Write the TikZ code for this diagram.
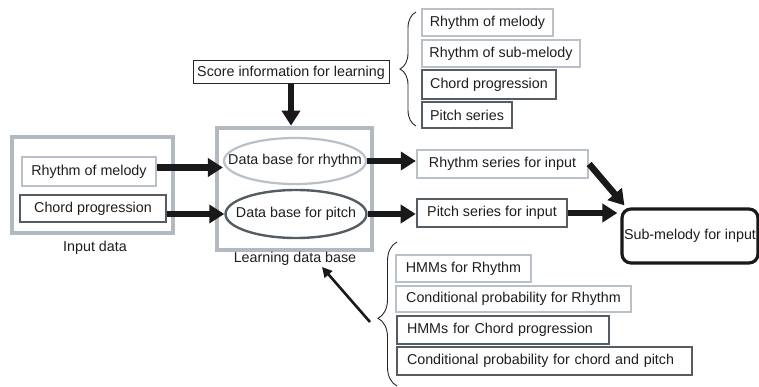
\documentclass[tikz,border=0pt]{standalone}
\usepackage{fontspec}
\setmainfont{Liberation Sans}
\usetikzlibrary{arrows.meta,shapes.geometric,decorations.pathreplacing}
\definecolor{lightc}{HTML}{B9C0C7}
\definecolor{darkc}{HTML}{555D62}
\definecolor{framec}{HTML}{B3B9C1}
\definecolor{txt}{HTML}{1E1E1E}
\begin{document}
\begin{tikzpicture}[x=1pt,y=-1pt,
  every node/.style={font=\fontsize{14.3}{16}\selectfont, text=txt},
  basebox/.style={rectangle, inner sep=0pt, fill=white},
  lbox/.style={basebox, draw=lightc, line width=2.3pt},
  dbox/.style={basebox, draw=darkc, line width=2.6pt},
  framebox/.style={rectangle, inner sep=0pt, draw=framec, line width=4.7pt},
  lell/.style={ellipse, inner sep=0pt, draw=lightc, line width=2.2pt, fill=white},
  dell/.style={ellipse, inner sep=0pt, draw=darkc, line width=2.4pt, fill=white},
  bigarrow/.style={line width=6.5pt, draw=black!90, -{Triangle[length=15pt,width=18pt]}},
  thinarrow/.style={line width=2.6pt, draw=black!90, -{Triangle[length=10pt,width=10pt]}},
  bracestyle/.style={draw=black!85, line width=0.9pt, decorate}
]
\useasboundingbox (0,0) rectangle (759,387);

% input data
\node[framebox, minimum width=161, minimum height=96] (inframe) at (92.5,185) {};
\node[lbox, minimum width=134, minimum height=29] (rml) at (89,171.5) {Rhythm of melody};
\node[dbox, minimum width=146, minimum height=27] (cpl) at (93,208.5) {Chord progression};
\node (inlabel) at (95,248) {Input data};

% learning data base
\node[framebox, minimum width=155, minimum height=122] (ldb) at (294.5,189) {};
\node[lell, minimum width=142, minimum height=46, label=center:{Data base for rhythm}] (dbr) at (295,161) {};
\node[dell, minimum width=141, minimum height=48, label=center:{Data base for pitch}] (dbp) at (296,214) {};
\node (ldblabel) at (295,259) {Learning data base};

% series
\node[lbox, minimum width=171, minimum height=28] (rsi) at (502.5,164) {Rhythm series for input};
\node[dbox, minimum width=150, minimum height=28] (psi) at (492,213) {Pitch series for input};
\node[basebox, draw=black!90, line width=3.2pt, rounded corners=9pt, minimum width=136, minimum height=54] (sub) at (690,236) {Sub-melody for input};

% score information
\node[basebox, draw=black!85, line width=1pt, minimum width=196, minimum height=23] (score) at (291,72.5) {Score information for learning};

% top list
\node[lbox, minimum width=131, minimum height=27] (t1) at (487.5,22.5) {Rhythm of melody};
\node[lbox, minimum width=158, minimum height=27] (t2) at (501,53.5) {Rhythm of sub-melody};
\node[dbox, minimum width=134, minimum height=29] (t3) at (489,84.5) {Chord progression};
\node[dbox, minimum width=90, minimum height=26] (t4) at (467,115) {Pitch series};

% bottom list
\node[lbox, minimum width=135, minimum height=27] (b1) at (463.5,268.5) {HMMs for Rhythm};
\node[lbox, minimum width=235, minimum height=26] (b2) at (513.5,299) {Conditional probability for Rhythm};
\node[dbox, minimum width=212, minimum height=28, inner xsep=10pt, text width=192pt, align=left] (b3) at (503,330) {HMMs for Chord progression};
\node[dbox, minimum width=295, minimum height=28, inner xsep=10pt, text width=275pt, align=left] (b4) at (544.5,361) {Conditional probability for chord and pitch};

% braces
\coordinate (tbA) at (416,126);
\coordinate (tbB) at (416,12);
\draw[bracestyle, decoration={brace, amplitude=16pt, aspect=0.5}] (tbA) -- (tbB);
\coordinate (bbA) at (397,386);
\coordinate (bbB) at (397,242);
\draw[bracestyle, decoration={brace, amplitude=19pt, aspect=0.47}] (bbA) -- (bbB);

% arrows
\draw[bigarrow] ([yshift=4pt]rml.east) -- ([yshift=4pt]rml.east -| dbr.west);
\draw[bigarrow] (cpl.east |- dbp.west) -- (dbp.west);
\draw[bigarrow] (dbr.east) -- (dbr.east -| rsi.west);
\draw[bigarrow] (dbp.east) -- (dbp.east -| psi.west);
\draw[bigarrow] (rsi.east) -- ([shift={(4pt,2pt)}]sub.north west);
\draw[bigarrow] (psi.east) -- ([xshift=-3pt]psi.east -| sub.west);
\draw[bigarrow] (score.south) -- (score.south |- ldb.north);
\coordinate (ta) at (370,322);
\coordinate (tb) at (322,267);
\draw[thinarrow] (ta) -- (tb);
\end{tikzpicture}
\end{document}
